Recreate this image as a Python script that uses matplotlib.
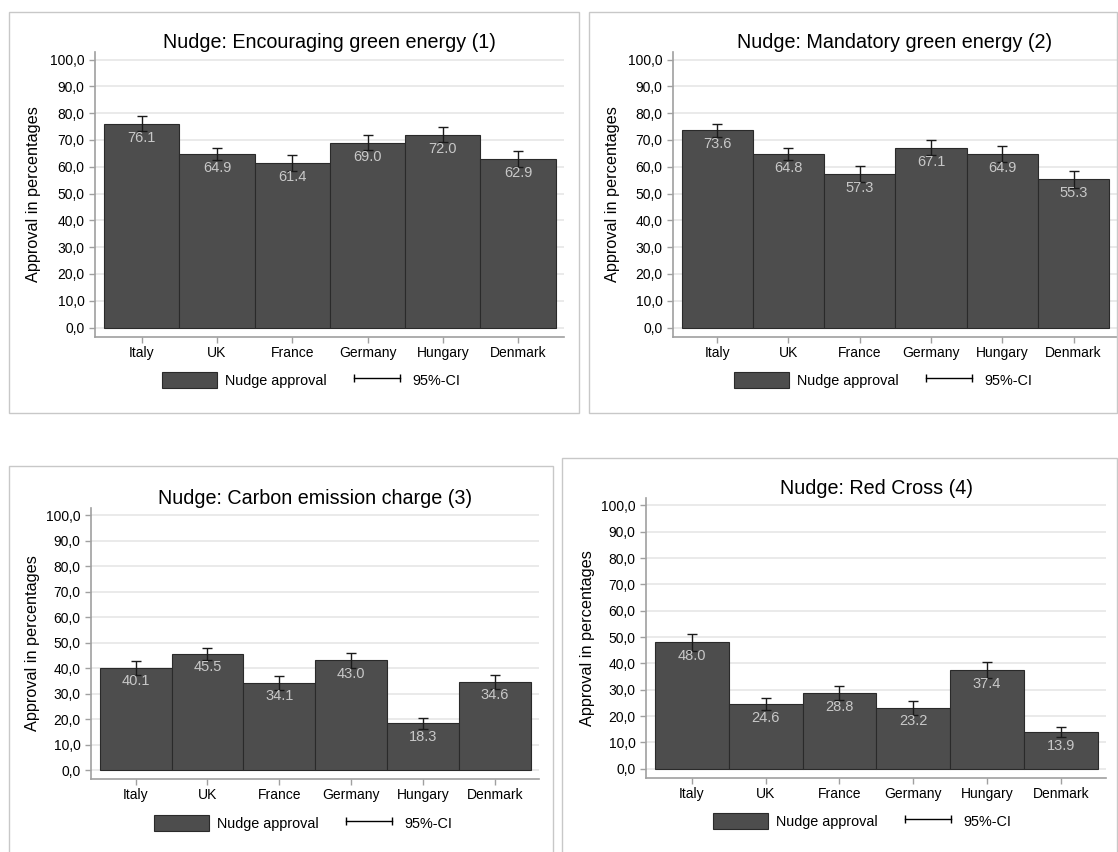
import matplotlib
matplotlib.use('Agg')
import matplotlib.pyplot as plt
from matplotlib.patches import Patch, Rectangle
from matplotlib.lines import Line2D
import numpy as np

plt.rcParams['font.family'] = ['Liberation Sans', 'DejaVu Sans']

countries = ['Italy', 'UK', 'France', 'Germany', 'Hungary', 'Denmark']

titles = ['Nudge: Encouraging green energy (1)',
          'Nudge: Mandatory green energy (2)',
          'Nudge: Carbon emission charge (3)',
          'Nudge: Red Cross (4)']

approval_1 = [76.1, 64.9, 61.4, 69.0, 72.0, 62.9]
approval_2 = [73.6, 64.8, 57.3, 67.1, 64.9, 55.3]
approval_3 = [40.1, 45.5, 34.1, 43.0, 18.3, 34.6]
approval_4 = [48.0, 24.6, 28.8, 23.2, 37.4, 13.9]

ci_1 = [2.7, 2.2, 3.0, 2.7, 2.7, 3.0]
ci_2 = [2.5, 2.2, 3.0, 2.8, 3.0, 3.2]
ci_3 = [2.8, 2.3, 2.8, 2.8, 2.3, 2.8]
ci_4 = [3.1, 2.2, 2.8, 2.6, 3.0, 2.0]

yticks = np.arange(0, 101, 10)

W, H = 1118, 852
fig = plt.figure(figsize=(W / 100, H / 100), dpi=100)

# panel layout in pixels: box (x0, y0, x1, y1), axes (left, top, right, bottom),
# y label x, legend centre (x, y), title y
panels = [
    dict(box=(9, 12, 579, 413), ax=(95, 52, 564, 337), ylab=41, leg=(311, 380), ty=36),
    dict(box=(589, 12, 1117, 413), ax=(673, 52, 1117, 337), ylab=620, leg=(883, 380), ty=35),
    dict(box=(9, 466, 553, 860), ax=(91, 508, 539, 779), ylab=40, leg=(303, 823), ty=492),
    dict(box=(562, 458, 1117, 860), ax=(646, 498, 1106, 778), ylab=595, leg=(862, 821), ty=480),
]

data = [(approval_1, ci_1), (approval_2, ci_2), (approval_3, ci_3), (approval_4, ci_4)]

bar_color = '#4d4d4d'
axis_gray = '#a0a0a0'

for p, (vals, ci), title in zip(panels, data, titles):
    bx0, by0, bx1, by1 = p['box']
    fig.patches.append(Rectangle((bx0 / W, 1 - by1 / H), (bx1 - bx0) / W, (by1 - by0) / H,
                                 transform=fig.transFigure, fill=False,
                                 edgecolor='#c8c8c8', linewidth=1.0))
    l, t, r, b = p['ax']
    ax = fig.add_axes([l / W, 1 - b / H, (r - l) / W, (b - t) / H])
    x = np.arange(len(countries))
    ax.bar(x, vals, width=1.0, color=bar_color, edgecolor='#2a2a2a', linewidth=0.8, zorder=2)
    ax.errorbar(x, vals, yerr=ci, fmt='none', ecolor='#1a1a1a', elinewidth=1.0,
                capsize=3.5, capthick=1.0, zorder=3)
    for xi, v in zip(x, vals):
        ax.text(xi, v - 5.2, '%.1f' % v, ha='center', va='center', fontsize=10.5,
                color='#c8c8c8', zorder=4)
    ax.set_xlim(-0.62, 5.61)
    ax.set_ylim(-3.5, 102.8)
    ax.set_yticks(yticks)
    ax.set_yticklabels(['%d,0' % v for v in yticks])
    ax.set_xticks(x)
    ax.set_xticklabels(countries)
    ax.grid(axis='y', color='#e6e6e6', linewidth=1.2, zorder=0)
    ax.set_axisbelow(True)
    for s in ['top', 'right']:
        ax.spines[s].set_visible(False)
    for s in ['left', 'bottom']:
        ax.spines[s].set_color(axis_gray)
        ax.spines[s].set_linewidth(1.2)
    ax.tick_params(axis='both', colors=axis_gray, labelcolor='black', labelsize=10,
                   length=4, width=1)
    ax.tick_params(axis='x', pad=2.5)
    ax.set_ylabel('Approval in percentages', fontsize=11.7)
    ax.yaxis.set_label_coords((p['ylab'] - l) / (r - l), 0.5)
    ax.set_title(title, fontsize=14.2)
    ax.title.set_y((b - p['ty']) / (b - t))
    ax.title.set_va('center')

    handles = [Patch(facecolor=bar_color, edgecolor='#2a2a2a', linewidth=0.8),
               Line2D([], [], color='black', lw=1.0, marker='|', markersize=6)]
    lx, ly = p['leg']
    fig.legend(handles, ['Nudge approval', '95%-CI'], ncol=2, frameon=False,
               loc='center', bbox_to_anchor=(lx / W, 1 - ly / H), fontsize=10.4,
               numpoints=2, handlelength=3.8, handleheight=1.3,
               handletextpad=0.55, columnspacing=1.6)

plt.savefig('out.png', dpi=100)
plt.close()
